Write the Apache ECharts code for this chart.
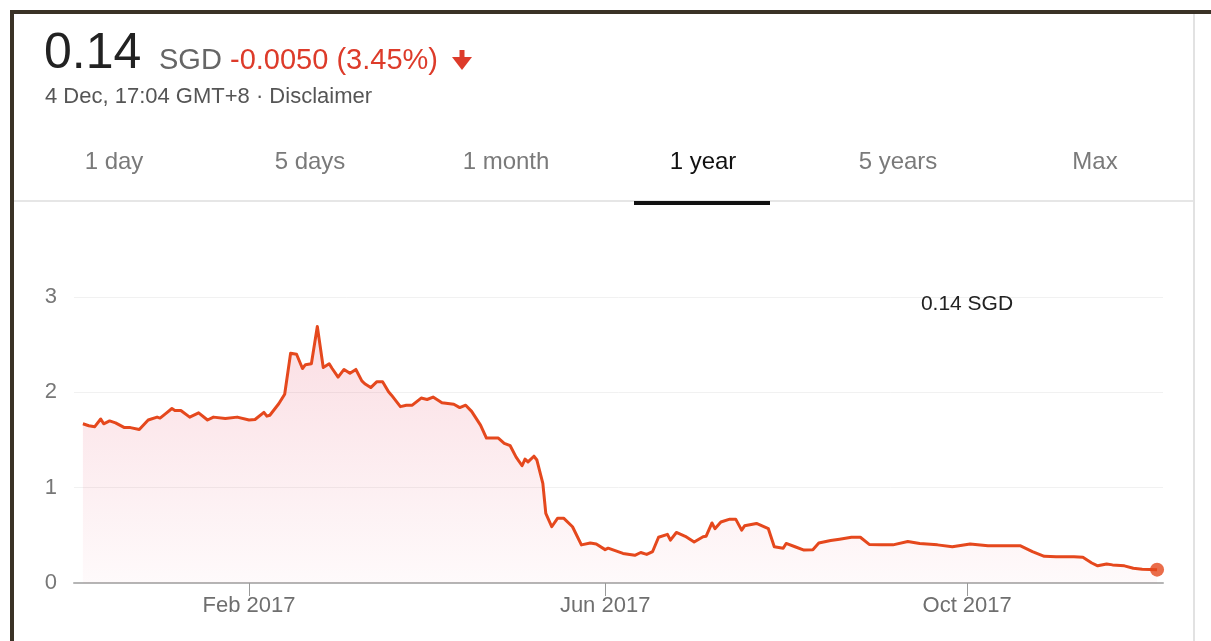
<!DOCTYPE html>
<html><head><meta charset="utf-8">
<script src="https://cdn.jsdelivr.net/npm/echarts@6/dist/echarts.min.js"></script>
<style>html,body{margin:0;padding:0;background:#fff;}#c{width:1211px;height:641px;}</style>
</head><body><div id="c"></div>
<script>
const dates = ['2016-12-07','2016-12-09','2016-12-11','2016-12-13','2016-12-14','2016-12-16','2016-12-18','2016-12-21','2016-12-23','2016-12-26','2016-12-29',
'2017-01-01','2017-01-02','2017-01-04','2017-01-06','2017-01-07','2017-01-09','2017-01-12','2017-01-15','2017-01-18','2017-01-20','2017-01-24','2017-01-28',
'2017-02-01','2017-02-03','2017-02-06','2017-02-07','2017-02-08','2017-02-11','2017-02-13','2017-02-15','2017-02-17','2017-02-19','2017-02-20','2017-02-22','2017-02-24','2017-02-26','2017-02-28',
'2017-03-01','2017-03-03','2017-03-05','2017-03-07','2017-03-09','2017-03-11','2017-03-12','2017-03-14','2017-03-16','2017-03-18','2017-03-20','2017-03-21','2017-03-24','2017-03-26','2017-03-28','2017-03-31',
'2017-04-02','2017-04-04','2017-04-07','2017-04-11','2017-04-13','2017-04-15','2017-04-17','2017-04-20','2017-04-22','2017-04-26','2017-04-28','2017-04-30',
'2017-05-02','2017-05-04','2017-05-05','2017-05-06','2017-05-08','2017-05-09','2017-05-11','2017-05-12','2017-05-14','2017-05-16','2017-05-18','2017-05-21','2017-05-24','2017-05-27','2017-05-29',
'2017-06-01','2017-06-02','2017-06-07','2017-06-11','2017-06-13','2017-06-15','2017-06-17','2017-06-19','2017-06-22','2017-06-23','2017-06-25','2017-06-28',
'2017-07-01','2017-07-04','2017-07-05','2017-07-07','2017-07-08','2017-07-10','2017-07-13','2017-07-15','2017-07-17','2017-07-18','2017-07-22','2017-07-26','2017-07-28','2017-07-31',
'2017-08-01','2017-08-04','2017-08-07','2017-08-10','2017-08-12','2017-08-16','2017-08-19','2017-08-23','2017-08-26','2017-08-29',
'2017-09-02','2017-09-06','2017-09-11','2017-09-15','2017-09-21','2017-09-26',
'2017-10-02','2017-10-08','2017-10-14','2017-10-19','2017-10-23','2017-10-27','2017-10-31',
'2017-11-06','2017-11-09','2017-11-12','2017-11-14','2017-11-17','2017-11-19','2017-11-23','2017-11-26','2017-11-29','2017-12-04'];
const prices = [1.67,1.65,1.64,1.72,1.67,1.70,1.68,1.63,1.63,1.61,1.71,
1.74,1.73,1.78,1.83,1.81,1.81,1.74,1.785,1.71,1.74,1.725,1.74,
1.71,1.715,1.79,1.75,1.76,1.88,1.98,2.41,2.40,2.25,2.29,2.30,2.69,2.26,2.30,
2.25,2.16,2.24,2.20,2.24,2.12,2.09,2.05,2.11,2.11,2.005,1.97,1.85,1.865,1.865,1.94,
1.925,1.95,1.89,1.875,1.84,1.865,1.80,1.656,1.52,1.52,1.465,1.44,
1.32,1.23,1.30,1.27,1.33,1.29,1.045,0.73,0.59,0.68,0.68,0.59,0.40,0.42,0.41,
0.35,0.365,0.31,0.29,0.32,0.30,0.33,0.48,0.51,0.45,0.53,0.49,
0.43,0.485,0.49,0.63,0.57,0.64,0.67,0.67,0.555,0.60,0.625,0.57,0.38,0.365,
0.415,0.38,0.345,0.35,0.42,0.445,0.46,0.48,0.48,0.405,
0.40,0.40,0.435,0.415,0.40,0.38,
0.41,0.39,0.39,0.39,0.33,0.28,0.275,
0.275,0.27,0.21,0.18,0.20,0.19,0.18,0.155,0.145,0.14];
const xTickDates = ['2017-02-01','2017-06-01','2017-10-01'];
const xTickLabels = ['Feb 2017','Jun 2017','Oct 2017'];
const xRange = ['2016-12-04','2017-12-06'];
const yTicks = [0,1,2,3];
const tabs = ['1 day','5 days','1 month','1 year','5 years','Max'];
const selectedTab = '1 year';
const currency = 'SGD';
const changeText = '-0.0050 (3.45%)';
const stampText = '4 Dec, 17:04 GMT+8 \u00b7 Disclaimer';

const DAY = 86400000;
const ts = s => Date.UTC(+s.slice(0,4), +s.slice(5,7) - 1, +s.slice(8,10)) / DAY;
const tickTs = xTickDates.map(ts);
const seriesData = dates.map((d, i) => [ts(d), prices[i]]);
const last = seriesData[seriesData.length - 1];
const FONT = 'Arial, "Liberation Sans", sans-serif';
const RED = '#e5481d';

const tabX = [114, 310, 506, 703, 898, 1095];
const graphic = [
  {type:'rect', shape:{x:10,y:10,width:1201,height:4}, style:{fill:'#3a3226'}, z:100},
  {type:'rect', shape:{x:10,y:10,width:4,height:631}, style:{fill:'#3a3226'}, z:100},
  {type:'rect', shape:{x:1193,y:14,width:2,height:627}, style:{fill:'#e2e2e2'}, z:100},
  {type:'rect', shape:{x:14,y:200,width:1179,height:2}, style:{fill:'#e6e6e6'}, z:100},
  {type:'rect', shape:{x:634,y:201,width:136,height:4}, style:{fill:'#111'}, z:101},
  {type:'text', style:{text:String(prices[prices.length-1]), x:44, y:54, font:'50px '+FONT, fill:'#222', verticalAlign:'middle'}, z:100},
  {type:'text', style:{text:currency, x:159, y:61, font:'29px '+FONT, fill:'#666', verticalAlign:'middle'}, z:100},
  {type:'text', style:{text:changeText, x:230, y:61, font:'29px '+FONT, fill:'#dd3b2a', verticalAlign:'middle'}, z:100},
  {type:'rect', shape:{x:459.5,y:50,width:5,height:11}, style:{fill:'#dd3b2a'}, z:100},
  {type:'polygon', shape:{points:[[452,57],[472,57],[462,70]]}, style:{fill:'#dd3b2a'}, z:100},
  {type:'text', style:{text:stampText, x:45, y:97, font:'22px '+FONT, fill:'#555', verticalAlign:'middle'}, z:100},
  {type:'text', style:{text:prices[prices.length-1] + ' ' + currency, x:967, y:304, font:'21px '+FONT, fill:'#222', align:'center', verticalAlign:'middle'}, z:100}
];
tabs.forEach((t, i) => graphic.push({type:'text', style:{text:t, x:tabX[i], y:162, font:'24px '+FONT, fill: t === selectedTab ? '#111' : '#7a7a7a', align:'center', verticalAlign:'middle'}, z:100}));

const chart = echarts.init(document.getElementById('c'), null, {renderer:'canvas'});
chart.setOption({
  backgroundColor:'#fff',
  animation:false,
  grid:{left:74, right:48, top:297, bottom:58, containLabel:false},
  xAxis:{
    type:'value', min:ts(xRange[0]), max:ts(xRange[1]),
    axisLine:{show:true, onZero:false, lineStyle:{color:'#b5b5b5', width:2}},
    axisTick:{show:true, customValues:tickTs, length:13, lineStyle:{color:'#999', width:1}},
    axisLabel:{customValues:tickTs, margin:12, color:'#6f6f6f', fontSize:22, fontFamily:FONT,
      formatter: v => { const i = tickTs.indexOf(v); return i >= 0 ? xTickLabels[i] : ''; }},
    splitLine:{show:false}
  },
  yAxis:{
    type:'value', min:yTicks[0], max:yTicks[yTicks.length-1], interval:1,
    axisLine:{show:false}, axisTick:{show:false},
    axisLabel:{color:'#777', fontSize:22, fontFamily:FONT, margin:17},
    splitLine:{show:true, lineStyle:{color:'#f1f1f1', width:1}}
  },
  series:[
    {type:'line', data:seriesData, showSymbol:false, symbol:'none', smooth:false,
     lineStyle:{color:RED, width:3, join:'round'},
     areaStyle:{color:new echarts.graphic.LinearGradient(0,0,0,1,[
       {offset:0, color:'rgba(230,70,100,0.26)'},
       {offset:1, color:'rgba(230,70,100,0.04)'}])}},
    {type:'scatter', data:[last], symbol:'circle', symbolSize:14, itemStyle:{color:RED}, z:5}
  ],
  graphic: graphic
});
</script></body></html>
